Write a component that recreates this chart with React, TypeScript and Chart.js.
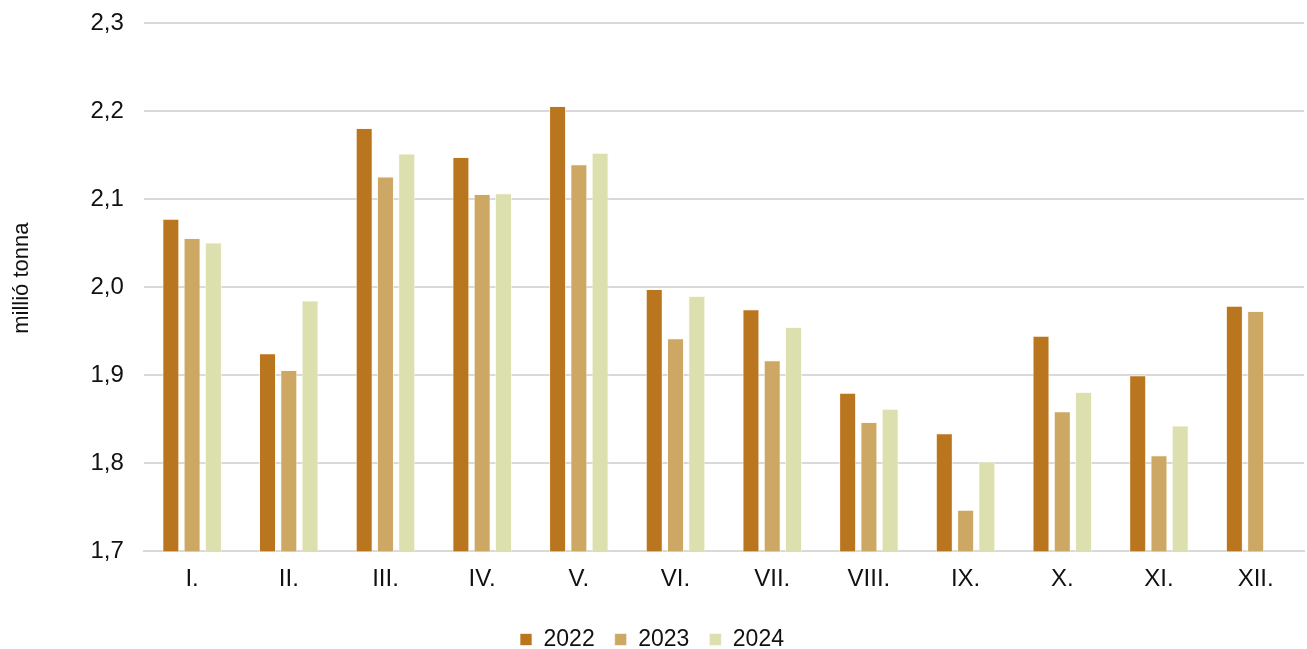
import React, { useEffect, useRef } from "react";
import { Chart, registerables } from "chart.js";

Chart.register(...registerables);

const months = ["I.", "II.", "III.", "IV.", "V.", "VI.", "VII.", "VIII.", "IX.", "X.", "XI.", "XII."];
const values2022 = [2.078, 1.925, 2.181, 2.148, 2.206, 1.998, 1.975, 1.880, 1.834, 1.945, 1.900, 1.979];
const values2023 = [2.056, 1.906, 2.126, 2.106, 2.140, 1.942, 1.917, 1.847, 1.747, 1.859, 1.809, 1.973];
const values2024 = [2.051, 1.985, 2.152, 2.107, 2.153, 1.990, 1.955, 1.862, 1.802, 1.881, 1.843, null];
const seriesLabels = ["2022", "2023", "2024"];
const seriesColors = ["#BA761F", "#CCA864", "#DCDFAE"];
const yMin = 1.7;
const yMax = 2.3;
const yStep = 0.1;
const yTitle = "\u00A0\u00A0\u00A0millió tonna";

const FONT = "'Liberation Sans', Arial, Helvetica, sans-serif";

export default function App() {
  const ref = useRef<HTMLCanvasElement | null>(null);

  useEffect(() => {
    if (!ref.current) return;
    const data = [values2022, values2023, values2024];
    const chart = new Chart(ref.current, {
      type: "bar",
      data: {
        labels: months,
        datasets: seriesLabels.map((label, i) => ({
          label,
          data: data[i],
          backgroundColor: seriesColors[i],
          borderColor: "rgba(255,248,235,0.7)",
          borderWidth: 1,
          barPercentage: 0.8,
          categoryPercentage: 0.66,
        })),
      },
      options: {
        responsive: true,
        maintainAspectRatio: false,
        animation: false,
        layout: { padding: { top: 0, right: 3, bottom: -12, left: 0 } },
        plugins: {
          tooltip: { enabled: false },
          legend: {
            position: "bottom",
            labels: {
              boxWidth: 12,
              boxHeight: 12,
              padding: 20,
              color: "#111",
              font: { family: FONT, size: 23 },
            },
          },
        },
        scales: {
          x: {
            grid: { display: false, drawTicks: false },
            border: { display: true, color: "#d9d9d9", width: 2 },
            ticks: {
              color: "#111",
              padding: 14,
              font: { family: FONT, size: 24 },
            },
          },
          y: {
            min: yMin,
            max: yMax,
            grid: {
              color: "#d9d9d9",
              lineWidth: 2,
              drawTicks: true,
              tickLength: 11,
              tickColor: "rgba(0,0,0,0)",
            },
            border: { display: false },
            ticks: {
              stepSize: yStep,
              padding: 9,
              color: "#111",
              font: { family: FONT, size: 24 },
              callback: (v: any) => Number(v).toFixed(1).replace(".", ","),
            },
            title: {
              display: true,
              text: yTitle,
              color: "#111",
              font: { family: FONT, size: 22 },
              padding: { top: 9, bottom: 46 },
            },
          },
        },
      },
    });
    return () => chart.destroy();
  }, []);

  return (
    <div style={{ position: "fixed", left: 0, top: 0, width: 1307, height: 649, background: "#fff" }}>
      <canvas ref={ref} />
    </div>
  );
}
